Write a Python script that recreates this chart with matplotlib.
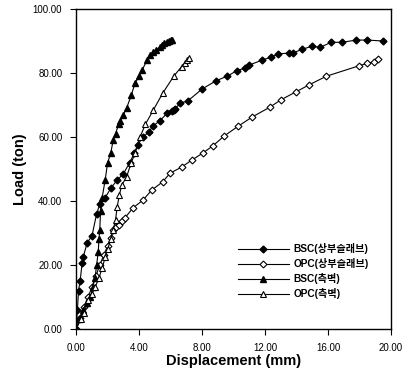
import matplotlib
matplotlib.use("Agg")
import matplotlib.pyplot as plt

plt.rcParams["font.family"] = ["Liberation Sans", "Noto Sans CJK KR", "DejaVu Sans"]

# BSC(상부슬래브) - filled diamonds
bsc_top_x = [0.0, 0.08, 0.15, 0.25, 0.38, 0.45, 0.7, 1.0, 1.3, 1.5, 1.84, 2.2, 2.6, 3.0, 3.4, 3.7,
             3.9, 4.25, 4.6, 4.9, 5.3, 5.8, 6.1, 6.2, 6.3, 6.6, 7.1, 8.0, 8.9, 9.6, 10.2, 10.7,
             11.0, 11.8, 12.4, 12.8, 13.5, 13.8, 14.35, 15.0, 15.5, 16.2, 16.9, 17.8, 18.5, 19.5]
bsc_top_y = [0.0, 6, 12, 15, 20.6, 22.5, 27, 29, 36, 39, 41, 44, 46.5, 48.5, 52, 55,
             57.5, 60, 61.5, 63.5, 65, 67.5, 68.2, 68.4, 68.8, 70.6, 71.3, 75, 77.6, 79, 80.7, 81.5,
             82.5, 84, 85, 86, 86.2, 86.3, 87.4, 88.4, 88, 89.6, 89.6, 90.3, 90.3, 90]

# OPC(상부슬래브) - open diamonds
opc_top_x = [0.0, 0.25, 0.5, 0.75, 1.0, 1.25, 1.5, 1.75, 2.0, 2.2, 2.35, 2.5, 2.7, 2.9, 3.1, 3.6,
             4.25, 4.8, 5.5, 5.97, 6.7, 7.35, 8.05, 8.7, 9.4, 10.3, 11.2, 12.3, 13.0, 14.0, 14.8,
             15.9, 18.0, 18.5, 18.9, 19.2]
opc_top_y = [0.0, 3.5, 7, 10, 13, 16.5, 20, 23, 26, 28.5, 31, 32, 32.5, 33.6, 34.7, 37.8,
             40.3, 43.4, 46, 48.7, 50.6, 52.8, 55, 57.3, 60.3, 63.4, 66.3, 69.3, 71.6, 74.2, 76.3,
             79, 82.3, 83, 83.5, 84.3]

# BSC(측벽) - filled triangles
bsc_wall_x = [0.0, 0.2, 0.45, 0.7, 0.9, 1.05, 1.2, 1.3, 1.4, 1.45, 1.5, 1.55, 1.65, 1.84, 2.0, 2.2,
              2.35, 2.5, 2.7, 2.8, 3.0, 3.2, 3.5, 3.75, 4.0, 4.2, 4.5, 4.7, 4.9, 5.1, 5.3, 5.45,
              5.6, 5.75, 5.9, 6.0, 6.1]
bsc_wall_y = [0.0, 3, 6, 8, 10, 13, 16, 20, 24, 28, 31, 37, 41, 46.5, 52, 55,
              59, 61, 64, 65, 67, 69, 73, 77, 79, 81, 84, 85.5, 86.5, 87.3, 88, 88.7,
              89.3, 89.7, 90, 90.2, 90.3]

# OPC(측벽) - open triangles
opc_wall_x = [0.0, 0.3, 0.5, 0.78, 1.0, 1.2, 1.45, 1.65, 1.85, 2.0, 2.2, 2.35, 2.5, 2.6, 2.75, 2.9,
              3.2, 3.5, 3.75, 4.06, 4.4, 4.9, 5.5, 6.2, 6.7, 6.9, 7.05, 7.2]
opc_wall_y = [0.0, 3, 5, 9, 11, 13, 16, 19, 22.5, 25, 28, 31, 34, 38, 42, 45,
              47.5, 52, 55, 60, 64, 68.4, 73.7, 79, 82, 83.2, 84, 84.7]

x_ticks = [0, 4, 8, 12, 16, 20]
y_ticks = [0, 20, 40, 60, 80, 100]

fig = plt.figure(figsize=(4.03, 3.76), dpi=100)
ax = fig.add_axes([0.189, 0.125, 0.781, 0.851])

ax.plot(bsc_top_x, bsc_top_y, color="black", lw=0.8, marker="D", ms=3.5,
        mfc="black", mec="black", label="BSC(상부슬래브)")
ax.plot(opc_top_x, opc_top_y, color="black", lw=0.8, marker="D", ms=3.5,
        mfc="white", mec="black", mew=0.8, label="OPC(상부슬래브)")
ax.plot(bsc_wall_x, bsc_wall_y, color="black", lw=0.8, marker="^", ms=4,
        mfc="black", mec="black", label="BSC(측벽)")
ax.plot(opc_wall_x, opc_wall_y, color="black", lw=0.8, marker="^", ms=4,
        mfc="white", mec="black", mew=0.8, label="OPC(측벽)")

ax.set_xlim(0, 20)
ax.set_ylim(0, 100)
ax.set_xticks(x_ticks)
ax.set_yticks(y_ticks)
ax.set_xticklabels([f"{v:.2f}" for v in x_ticks], fontsize=7)
ax.set_yticklabels([f"{v:.2f}" for v in y_ticks], fontsize=7)
ax.tick_params(direction="out", length=4, width=0.8, pad=6)
for s in ax.spines.values():
    s.set_linewidth(1.0)

ax.set_xlabel("Displacement (mm)", fontsize=10.5, fontweight="bold", labelpad=1)
ax.set_ylabel("Load (ton)", fontsize=10.5, fontweight="bold", labelpad=4)

ax.legend(loc="center left", bbox_to_anchor=(0.514, 0.18), frameon=False,
          borderpad=0, borderaxespad=0, handlelength=5.0, handletextpad=0.5,
          labelspacing=0.4, prop={"weight": "bold", "size": 7.3})

fig.savefig("out.png", dpi=100)
